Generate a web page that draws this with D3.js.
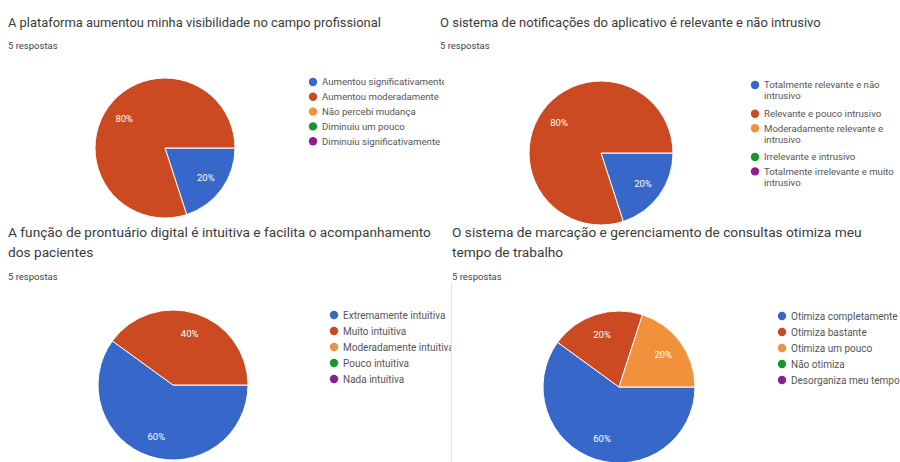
<!DOCTYPE html>
<html>
<head>
<meta charset="utf-8">
<script src="https://cdn.jsdelivr.net/npm/d3@7/dist/d3.min.js"></script>
<style>
  html, body { margin: 0; padding: 0; background: #ffffff; }
  svg { display: block; }
</style>
</head>
<body>
<svg id="chart" width="900" height="462"></svg>
<script>
// ---- Data ----
const titles = [
  ["A plataforma aumentou minha visibilidade no campo profissional"],
  ["O sistema de notificações do aplicativo é relevante e não intrusivo"],
  ["A função de prontuário digital é intuitiva e facilita o acompanhamento", "dos pacientes"],
  ["O sistema de marcação e gerenciamento de consultas otimiza meu", "tempo de trabalho"]
];
const responses = ["5 respostas", "5 respostas", "5 respostas", "5 respostas"];

const categories1 = ["Aumentou significativamente", "Aumentou moderadamente", "Não percebi mudança", "Diminuiu um pouco", "Diminuiu significativamente"];
const values1 = [20, 80, 0, 0, 0];

const categories2 = ["Totalmente relevante e não intrusivo", "Relevante e pouco intrusivo", "Moderadamente relevante e intrusivo", "Irrelevante e intrusivo", "Totalmente irrelevante e muito intrusivo"];
const values2 = [20, 80, 0, 0, 0];

const categories3 = ["Extremamente intuitiva", "Muito intuitiva", "Moderadamente intuitiva", "Pouco intuitiva", "Nada intuitiva"];
const values3 = [60, 40, 0, 0, 0];

const categories4 = ["Otimiza completamente", "Otimiza bastante", "Otimiza um pouco", "Não otimiza", "Desorganiza meu tempo"];
const values4 = [60, 20, 20, 0, 0];

const colors = ["#3767c8", "#cb4a21", "#f2913c", "#15972a", "#8c1f8f"];

// ---- Layout ----
const panels = [
  { cats: categories1, vals: values1, tx: 8,   ty: 27,  tfs: 12.9, rty: 48.5, cx: 165, cy: 148, r: 70, lx: 313, ly: 82,  lstep: 14.8, lfs: 9.6,  wrap: 0,   clipR: 444 },
  { cats: categories2, vals: values2, tx: 440, ty: 27,  tfs: 13.0, rty: 48.5, cx: 601, cy: 153, r: 72, lx: 755, ly: 85,  lstep: 14.4, lfs: 9.6,  wrap: 132, clipR: 900 },
  { cats: categories3, vals: values3, tx: 8,   ty: 237, tfs: 13.7, rty: 280,  cx: 173, cy: 385, r: 75, lx: 334, ly: 315, lstep: 16,   lfs: 10,   wrap: 0,   clipR: 451 },
  { cats: categories4, vals: values4, tx: 452, ty: 237, tfs: 13.7, rty: 280,  cx: 619, cy: 387, r: 76, lx: 782, ly: 316, lstep: 16,   lfs: 10,   wrap: 0,   clipR: 900 }
];

const svg = d3.select("#chart");
const defs = svg.append("defs");

// faint divider between bottom panels
svg.append("line")
  .attr("x1", 451.5).attr("x2", 451.5)
  .attr("y1", 282).attr("y2", 462)
  .attr("stroke", "#e2e2e2").attr("stroke-width", 1);

panels.forEach((p, i) => {
  const g = svg.append("g");

  // titles
  titles[i].forEach((line, k) => {
    g.append("text")
      .attr("x", p.tx).attr("y", p.ty + k * 20)
      .attr("font-family", "Roboto, 'Noto Sans', sans-serif")
      .attr("font-size", p.tfs)
      .attr("fill", "#3a3a3a")
      .text(line);
  });
  g.append("text")
    .attr("x", p.tx).attr("y", p.rty)
    .attr("font-family", "Roboto, 'Noto Sans', sans-serif")
    .attr("font-size", 9.5)
    .attr("fill", "#444")
    .text(responses[i]);

  // pie
  const data = p.cats.map((c, j) => ({ cat: c, val: p.vals[j], color: colors[j] }));
  const pie = d3.pie().sort(null).value(d => d.val)
    .startAngle(Math.PI / 2).endAngle(Math.PI / 2 + 2 * Math.PI);
  const arcs = pie(data).filter(a => a.data.val > 0);
  const arc = d3.arc().innerRadius(0).outerRadius(p.r);
  const labelArc = d3.arc().innerRadius(p.r * 0.72).outerRadius(p.r * 0.72);
  const total = d3.sum(p.vals);

  const pg = g.append("g").attr("transform", `translate(${p.cx},${p.cy})`);
  pg.selectAll("path").data(arcs).enter().append("path")
    .attr("d", arc)
    .attr("fill", d => d.data.color)
    .attr("stroke", "#ffffff").attr("stroke-width", 1);
  pg.selectAll("text").data(arcs).enter().append("text")
    .attr("transform", d => `translate(${labelArc.centroid(d)})`)
    .attr("text-anchor", "middle").attr("dy", "0.35em")
    .attr("font-family", "Roboto, 'Noto Sans', sans-serif")
    .attr("font-size", 9.5)
    .attr("fill", "#ffffff")
    .text(d => Math.round(d.data.val / total * 100) + "%");

  // legend (clipped)
  const clipId = "clip" + i;
  defs.append("clipPath").attr("id", clipId)
    .append("rect").attr("x", p.lx - 10).attr("y", p.ly - 15)
    .attr("width", p.clipR - (p.lx - 10)).attr("height", 140);
  const lg = g.append("g").attr("clip-path", `url(#${clipId})`);
  let y = p.ly;
  data.forEach(d => {
    lg.append("circle")
      .attr("cx", p.lx).attr("cy", y).attr("r", 4.2)
      .attr("fill", d.color);
    const t = lg.append("text")
      .attr("x", p.lx + 9).attr("y", y).attr("dy", "0.35em")
      .attr("font-family", "Roboto, 'Noto Sans', sans-serif")
      .attr("font-size", p.lfs)
      .attr("fill", "#555");
    if (p.wrap > 0) {
      const words = d.cat.split(" ");
      let line = [];
      let tspan = t.append("tspan").attr("x", p.lx + 9).attr("y", y);
      words.forEach(w => {
        line.push(w);
        tspan.text(line.join(" "));
        if (tspan.node().getComputedTextLength() > p.wrap && line.length > 1) {
          line.pop();
          tspan.text(line.join(" "));
          line = [w];
          y += p.lstep;
          tspan = t.append("tspan").attr("x", p.lx + 9).attr("y", y).text(w);
        }
      });
    } else {
      t.text(d.cat);
    }
    y += p.lstep;
  });
});
</script>
</body>
</html>
